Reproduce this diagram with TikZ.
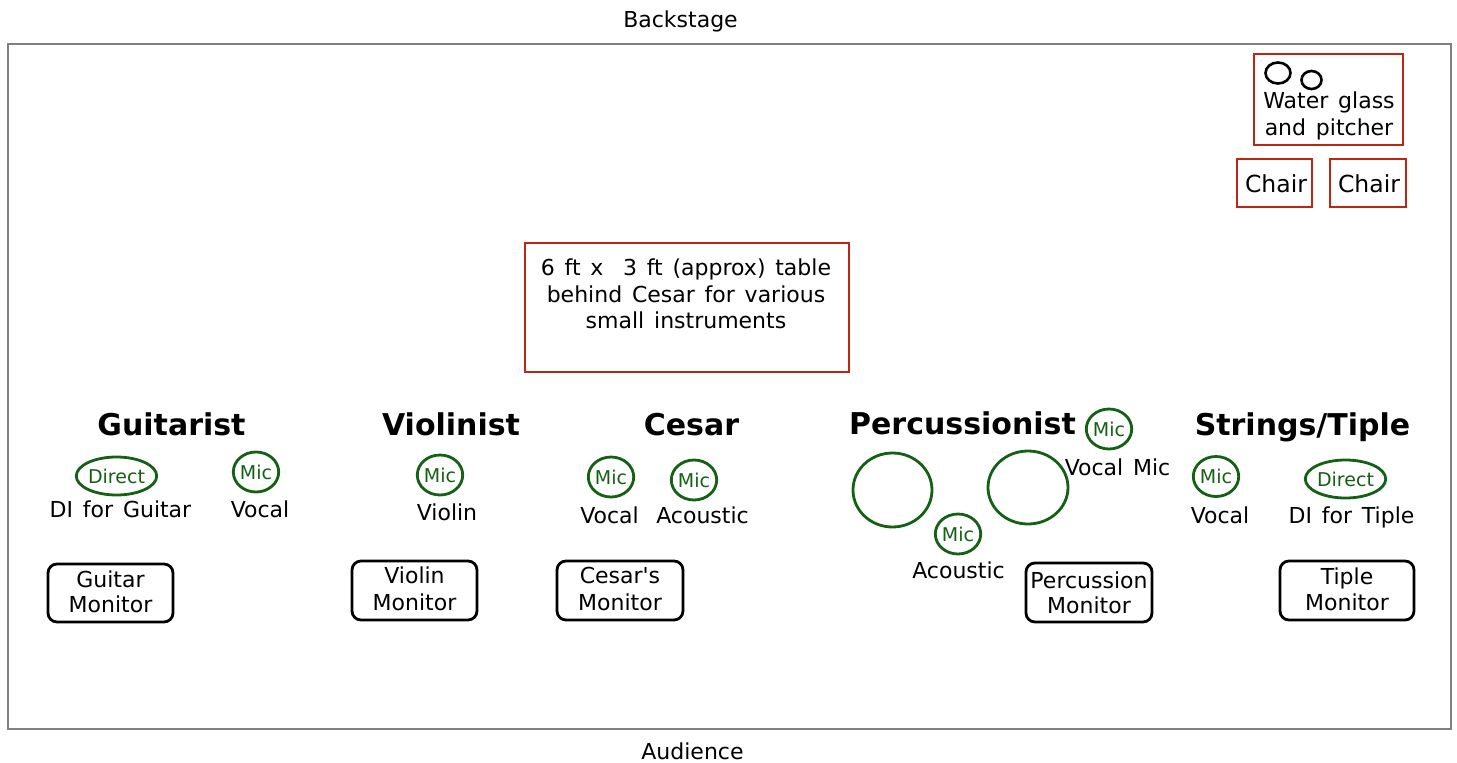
\documentclass[tikz,border=0pt]{standalone}
\usepackage{fontspec}
\setmainfont{DejaVu Sans}[WordSpace=1.4, Ligatures=TeXOff]
\usetikzlibrary{shapes.geometric}
\definecolor{micgreen}{RGB}{20,96,20}
\definecolor{boxred}{RGB}{190,38,20}
\definecolor{stagegray}{RGB}{128,128,128}
\begin{document}
\begin{tikzpicture}[x=1pt,y=-1pt,
 lbl/.style={font=\fontsize{22}{26}\selectfont, anchor=base, inner sep=0pt},
 hdr/.style={font=\bfseries\fontsize{30}{36}\selectfont, anchor=base, inner sep=0pt},
 mic/.style={ellipse, draw=micgreen, line width=2.8pt, text=micgreen, font=\fontsize{19}{21}\selectfont, inner sep=0pt, minimum width=44pt, minimum height=40pt},
 direct/.style={mic, minimum width=79pt, minimum height=38pt},
 drum/.style={ellipse, draw=micgreen, line width=2.8pt, inner sep=0pt},
 redbox/.style={draw=boxred, line width=2.8pt, inner sep=0pt},
 monbox/.style={draw=black, line width=2.8pt, rounded corners=9pt, inner sep=0pt},
 glass/.style={ellipse, draw=black, line width=2.6pt, inner sep=0pt}]
\useasboundingbox (0,0) rectangle (1457,763);
% stage
\node[draw=stagegray, line width=1.5pt, minimum width=1443pt, minimum height=685pt, inner sep=0pt] (stage) at (729.5,386.5) {};
\node[lbl] (backstage) at (680.5,27) {Backstage};
\node[lbl] (audience) at (692.5,759) {Audience};
% water and chairs
\node[redbox, minimum width=149pt, minimum height=91pt] (water) at (1328.5,99.5) {};
\node[glass, minimum width=25pt, minimum height=21pt] (glass1) at (1278,73) {};
\node[glass, minimum width=20pt, minimum height=18pt] (glass2) at (1311.5,80) {};
\node[lbl] (watert1) at (1329,108) {Water glass};
\node[lbl] (watert2) at (1329,135) {and pitcher};
\node[redbox, minimum width=75pt, minimum height=48pt] (chair1) at (1274.5,183) {};
\node[redbox, minimum width=76pt, minimum height=48pt] (chair2) at (1368,183) {};
\node[lbl, font=\fontsize{23.5}{26}\selectfont] (chair1t) at (1276,192) {Chair};
\node[lbl, font=\fontsize{23.5}{26}\selectfont] (chair2t) at (1369,192) {Chair};
% table
\node[redbox, minimum width=324pt, minimum height=129pt] (table) at (687,307.5) {};
\node[lbl] (tablet1) at (686,275) {6 ft x\ \ 3 ft (approx) table};
\node[lbl] (tablet2) at (686,302) {behind Cesar for various};
\node[lbl] (tablet3) at (686,328) {small instruments};
% headers
\node[hdr] (guitarist) at (171.5,435) {Guitarist};
\node[hdr] (violinist) at (451,435) {Violinist};
\node[hdr] (cesar) at (691.5,435) {Cesar};
\node[hdr] (percussionist) at (962.5,434) {Percussionist};
\node[hdr] (strings) at (1302.5,435) {Strings/Tiple};
% guitarist
\node[direct] (gdirect) at (116.5,476) {Direct};
\node[lbl] (gdil) at (120.5,517) {DI for Guitar};
\node[mic] (gmic) at (256,472) {Mic};
\node[lbl] (gvocal) at (260,517) {Vocal};
\node[monbox, minimum width=125pt, minimum height=58pt] (gmon) at (110.5,593) {};
\node[lbl] (gmont1) at (110.5,587) {Guitar};
\node[lbl] (gmont2) at (110.5,612) {Monitor};
% violinist
\node[mic] (vmic) at (440,475) {Mic};
\node[lbl] (vviolin) at (447,520) {Violin};
\node[monbox, minimum width=125pt, minimum height=59pt] (vmon) at (414.5,590.5) {};
\node[lbl] (vmont1) at (414.5,583) {Violin};
\node[lbl] (vmont2) at (414.5,610) {Monitor};
% cesar
\node[mic] (cmic1) at (611,477) {Mic};
\node[lbl] (cvocal) at (609.5,523) {Vocal};
\node[mic] (cmic2) at (694,480) {Mic};
\node[lbl] (cacoustic) at (702.5,523) {Acoustic};
\node[monbox, minimum width=126pt, minimum height=59pt] (cmon) at (620,590.5) {};
\node[lbl] (cmont1) at (620,583) {Cesar's};
\node[lbl] (cmont2) at (620,610) {Monitor};
% percussionist
\node[mic] (pmic1) at (1109,429) {Mic};
\node[lbl] (pvocal) at (1117.5,475) {Vocal Mic};
\node[drum, minimum width=79pt, minimum height=74pt] (drum1) at (892.5,490) {};
\node[drum, minimum width=80pt, minimum height=73pt] (drum2) at (1028,487.5) {};
\node[mic] (pmic2) at (958,534) {Mic};
\node[lbl] (pacoustic) at (958.5,578) {Acoustic};
\node[monbox, minimum width=126pt, minimum height=59pt] (pmon) at (1089,592.5) {};
\node[lbl] (pmont1) at (1089,588) {Percussion};
\node[lbl] (pmont2) at (1089,613) {Monitor};
% strings / tiple
\node[mic] (smic) at (1216,476.5) {Mic};
\node[lbl] (svocal) at (1220,523) {Vocal};
\node[direct] (sdirect) at (1345.5,479) {Direct};
\node[lbl] (sdil) at (1351.5,523) {DI for Tiple};
\node[monbox, minimum width=134pt, minimum height=59pt] (smon) at (1347,590.5) {};
\node[lbl] (smont1) at (1347,584) {Tiple};
\node[lbl] (smont2) at (1347,610) {Monitor};
\end{tikzpicture}
\end{document}
